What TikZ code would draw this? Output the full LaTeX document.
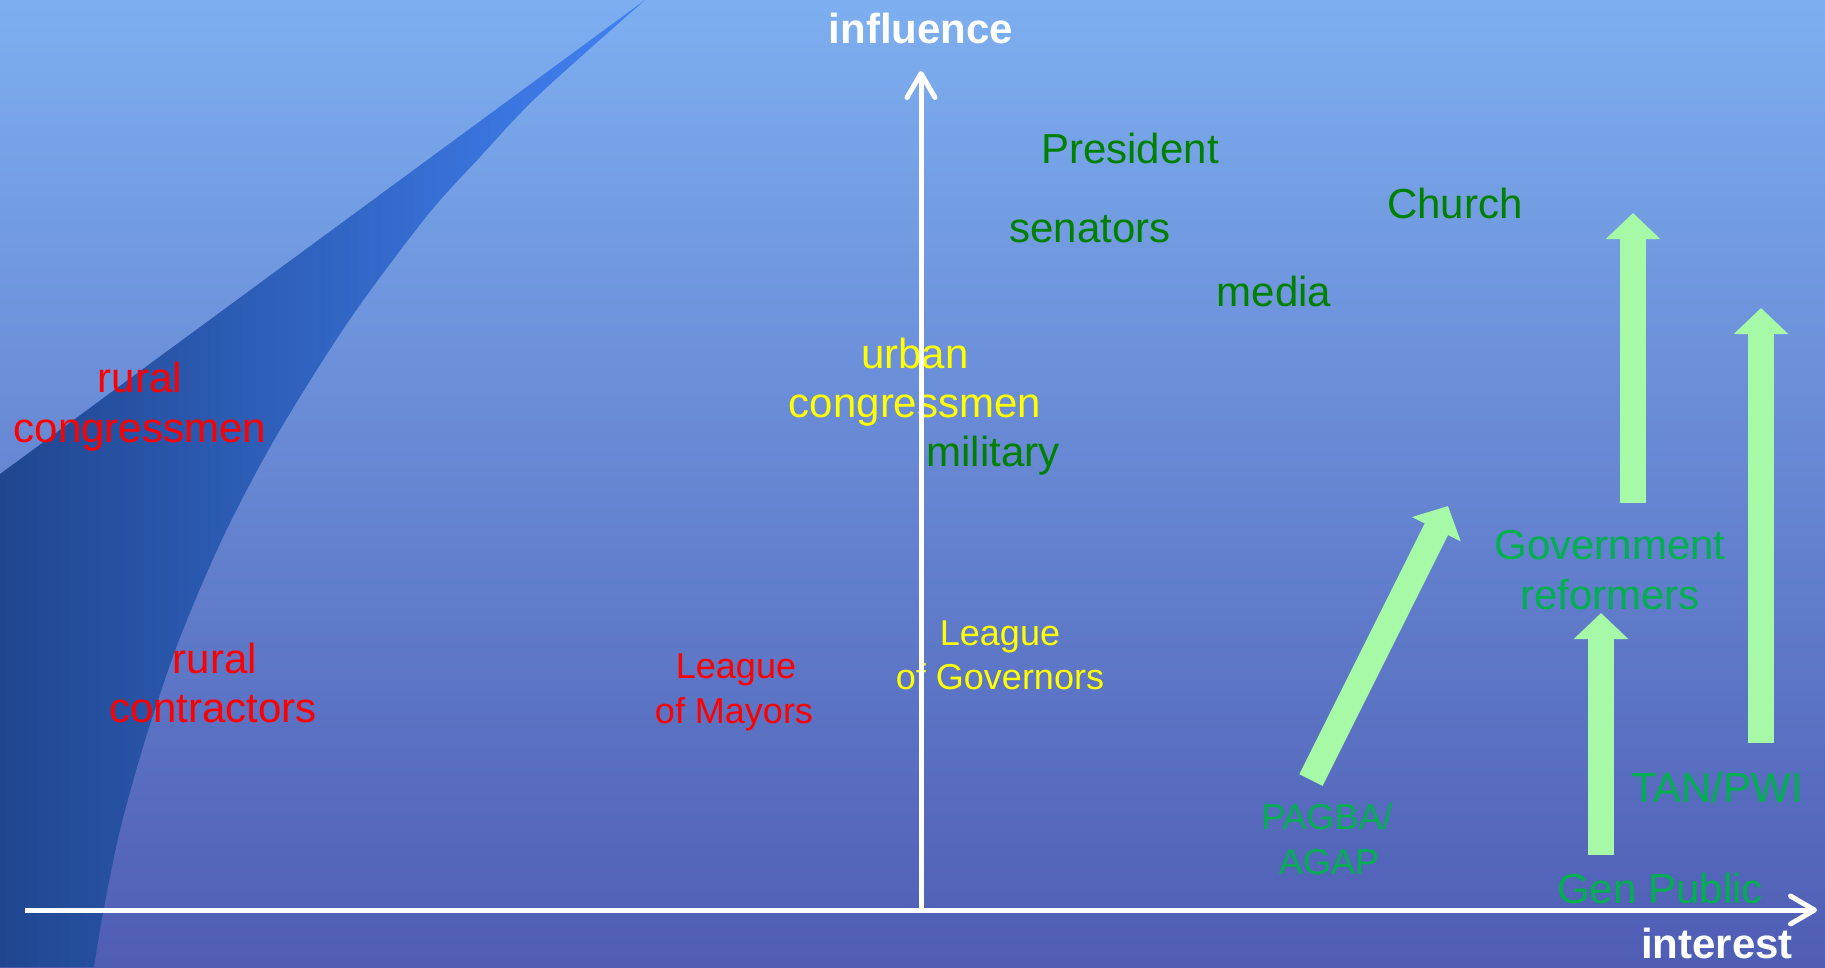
\documentclass[tikz,border=0pt]{standalone}
\usepackage{fontspec}
\setmainfont{Liberation Sans}
\usetikzlibrary{arrows.meta}
\definecolor{bgtop}{RGB}{125,175,240}
\definecolor{bgbot}{RGB}{79,93,180}
\definecolor{wedgeL}{RGB}{32,70,143}
\definecolor{wedgeR}{RGB}{66,130,245}
\definecolor{dkgreen}{RGB}{0,128,0}
\definecolor{brgreen}{RGB}{0,176,80}
\definecolor{ltgreen}{RGB}{166,249,166}
\definecolor{redtxt}{RGB}{255,0,0}
\definecolor{yeltxt}{RGB}{255,255,0}
\begin{document}
\begin{tikzpicture}[x=1pt,y=-1pt,
  lbl/.style={inner sep=0pt, anchor=base, font=\fontsize{42}{50}\selectfont},
  lblsm/.style={inner sep=0pt, anchor=base, font=\fontsize{36}{43}\selectfont},
  axislbl/.style={inner sep=0pt, anchor=base, text=white, font=\fontsize{42}{50}\selectfont\bfseries},
  axisline/.style={draw=white, line width=5pt, -{Straight Barb[length=24pt,width=28pt,round]}},
  blockarrow/.style={draw=ltgreen, fill=ltgreen, line width=26pt, -{Triangle[length=26pt,width=53pt]}},
]
\useasboundingbox (0,0) rectangle (1825,967);
% background
\shade[top color=bgtop, bottom color=bgbot] (0,0) rectangle (1825,967);
% dark wedge
\shade[left color=wedgeL, right color=wedgeR]
  (0,474) -- (645,0)
  -- plot[smooth] coordinates {(645,0) (538,95.6) (480,157) (426,217) (348,322) (277,435) (225,533) (181,635) (147,734) (120,830) (103,913) (94,967)}
  -- (0,967) -- cycle;
% block arrows
\coordinate (a1s) at (1633,503); \coordinate (a1e) at (1633,213);
\coordinate (a2s) at (1761,743); \coordinate (a2e) at (1761,308);
\coordinate (a3s) at (1601,855); \coordinate (a3e) at (1601,613);
\coordinate (a4s) at (1311,780); \coordinate (a4e) at (1448,506);
\draw[blockarrow] (a1s) -- (a1e);
\draw[blockarrow] (a2s) -- (a2e);
\draw[blockarrow] (a3s) -- (a3e);
\draw[blockarrow] (a4s) -- (a4e);
% labels
\node[lbl, text=dkgreen] (pres) at (1130,163) {President};
\node[lbl, text=dkgreen] (sen) at (1090,242) {senators};
\node[lbl, text=dkgreen] (church) at (1455,218) {Church};
\node[lbl, text=dkgreen] (media) at (1274,306) {media};
\node[lbl, text=dkgreen] (mil) at (993,466) {military};
\node[lbl, text=yeltxt] (uc1) at (915,368) {urban};
\node[lbl, text=yeltxt] (uc2) at (915,417) {congressmen};
\node[lbl, text=redtxt] (rc1) at (140,392) {rural};
\node[lbl, text=redtxt] (rc2) at (140,442) {congressmen};
\node[lbl, text=redtxt] (rt1) at (215,673) {rural};
\node[lbl, text=redtxt] (rt2) at (213,722) {contractors};
\node[lblsm, text=redtxt] (lm1) at (736,678) {League};
\node[lblsm, text=redtxt] (lm2) at (734,723) {of Mayors};
\node[lblsm, text=yeltxt] (lg1) at (1000,645) {League};
\node[lblsm, text=yeltxt] (lg2) at (1000,689) {of Governors};
\node[lbl, text=brgreen] (gr1) at (1610,559) {Government};
\node[lbl, text=brgreen] (gr2) at (1610,609) {reformers};
\node[lblsm, text=brgreen] (pg1) at (1327,829) {PAGBA/};
\node[lblsm, text=brgreen] (pg2) at (1329,874) {AGAP};
\node[lbl, text=brgreen] (tan) at (1717,802) {TAN/PWI};
\node[lbl, text=brgreen] (gen) at (1660,903) {Gen Public};
% axes
\coordinate (O) at (921,910);
\coordinate (xs) at (25,910);
\coordinate (xe) at (1817,910);
\coordinate (ye) at (921,71);
\draw[axisline] (xs) -- (xe);
\draw[axisline] (O) -- (ye);
\node[axislbl] (infl) at (921,43) {influence};
\node[axislbl] (intr) at (1717,958) {interest};
\end{tikzpicture}
\end{document}
